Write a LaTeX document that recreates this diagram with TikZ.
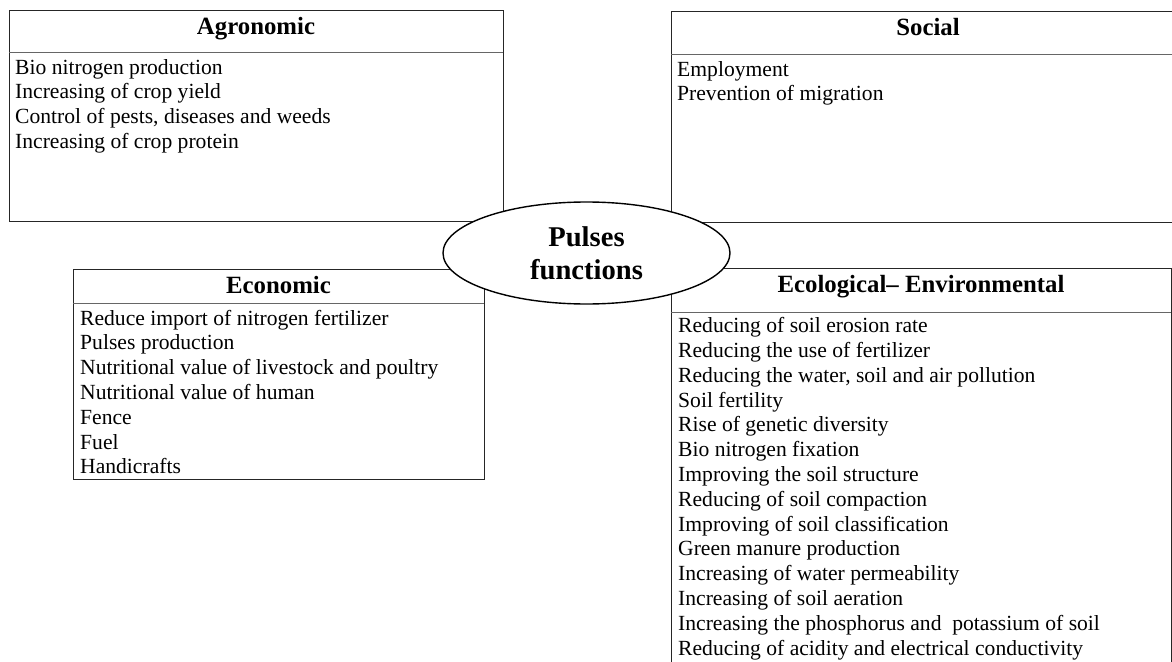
\documentclass[tikz,border=0pt]{standalone}
\usepackage{fontspec}
\setmainfont{Liberation Serif}
\usetikzlibrary{shapes.geometric}
\begin{document}
\begin{tikzpicture}[x=1bp,y=-1bp,
  frame/.style={draw=black!85, line width=1bp, inner sep=0pt, anchor=north west},
  sepline/.style={draw=black!60, line width=1bp},
  ttl/.style={font=\fontsize{24.8bp}{28bp}\selectfont\bfseries, inner sep=0pt, anchor=base},
  lst/.style={font=\fontsize{21.6bp}{24.8bp}\selectfont, align=left, inner sep=0pt, anchor=north west},
  hub/.style={ellipse, draw=black, line width=1.4bp, fill=white, minimum width=287bp, minimum height=102bp, inner sep=0pt,
    font=\fontsize{28.6bp}{33bp}\selectfont\bfseries, align=center}]
\useasboundingbox (0,0) rectangle (1172,662);
\clip (0,0) rectangle (1172,662);
\fill[white] (0,0) rectangle (1172,662);

% Agronomic
\node[frame, minimum width=494bp, minimum height=211bp] (agr) at (9,10) {};
\draw[sepline] (9,53) -- (503,53);
\node[ttl] (agrT) at (256,34.5) {Agronomic};
\node[lst] (agrL) at (15,56.6) {\strut Bio nitrogen production\\
Increasing of crop yield\\
Control of pests, diseases and weeds\\
Increasing of crop protein};

% Social
\node[frame, minimum width=514bp, minimum height=211bp] (soc) at (671,11) {};
\draw[sepline] (671,55) -- (1185,55);
\node[ttl] (socT) at (928,35.5) {Social};
\node[lst] (socL) at (677,58.6) {\strut Employment\\
Prevention of migration};

% Economic
\node[frame, minimum width=411bp, minimum height=210bp] (eco) at (73,269) {};
\draw[sepline] (73,303) -- (484,303);
\node[ttl] (ecoT) at (278.5,293.3) {Economic};
\node[lst] (ecoL) at (80,307.6) {\strut Reduce import of nitrogen fertilizer\\
Pulses production\\
Nutritional value of livestock and poultry\\
Nutritional value of human\\
Fence\\
Fuel\\
Handicrafts};

% Ecological - Environmental
\node[frame, minimum width=500bp, minimum height=450bp] (env) at (671,268) {};
\draw[sepline] (671,312) -- (1171,312);
\node[ttl] (envT) at (921,292) {Ecological– Environmental};
\node[lst] (envL) at (678,315.1) {\strut Reducing of soil erosion rate\\
Reducing the use of fertilizer\\
Reducing the water, soil and air pollution\\
Soil fertility\\
Rise of genetic diversity\\
Bio nitrogen fixation\\
Improving the soil structure\\
Reducing of soil compaction\\
Improving of soil classification\\
Green manure production\\
Increasing of water permeability\\
Increasing of soil aeration\\
Increasing the phosphorus and \ potassium of soil\\
Reducing of acidity and electrical conductivity};

% Hub
\node[hub] (hub) at (586.5,253) {Pulses\\functions};
\end{tikzpicture}
\end{document}
